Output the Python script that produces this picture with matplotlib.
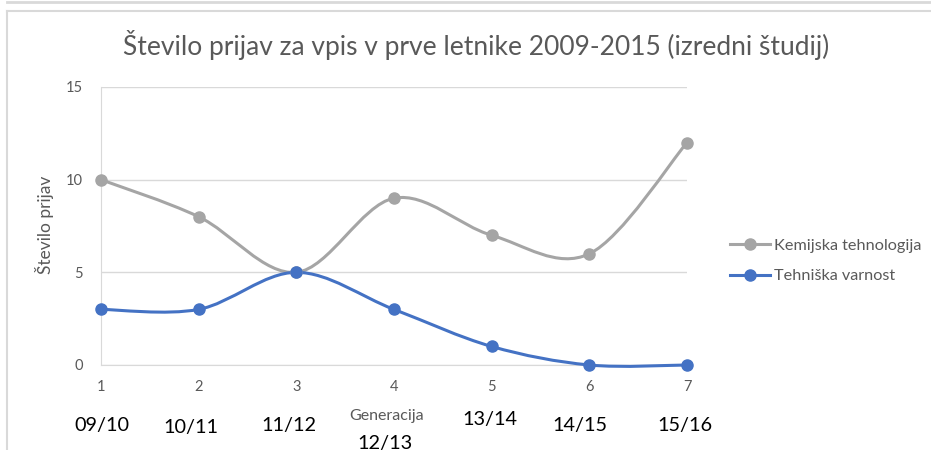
import matplotlib
matplotlib.use("Agg")
import matplotlib.pyplot as plt
from matplotlib.path import Path
from matplotlib.patches import PathPatch
from matplotlib.lines import Line2D

plt.rcParams["font.family"] = ["Lato", "DejaVu Sans"]

# data
x = [1, 2, 3, 4, 5, 6, 7]
generacije = ["09/10", "10/11", "11/12", "12/13", "13/14", "14/15", "15/16"]
kemijska = [10, 8, 5, 9, 7, 6, 12]
tehniska = [3, 3, 5, 3, 1, 0, 0]

GRAY = "#A5A5A5"
BLUE = "#4472C4"
TXT = "#595959"

W, H = 931, 450
fig = plt.figure(figsize=(W / 100, H / 100), dpi=100)
ax = fig.add_axes([101 / W, 1 - 365 / H, (687 - 101) / W, (365 - 87) / H])


def smooth_path(xs, ys):
    # Excel-like smoothed line: Catmull-Rom segments as cubic beziers
    pts = list(zip(xs, ys))
    verts = [pts[0]]
    codes = [Path.MOVETO]
    n = len(pts)
    for i in range(n - 1):
        p0 = pts[max(i - 1, 0)]
        p1 = pts[i]
        p2 = pts[i + 1]
        p3 = pts[min(i + 2, n - 1)]
        c1 = (p1[0] + (p2[0] - p0[0]) / 6, p1[1] + (p2[1] - p0[1]) / 6)
        c2 = (p2[0] - (p3[0] - p1[0]) / 6, p2[1] - (p3[1] - p1[1]) / 6)
        verts += [c1, c2, p2]
        codes += [Path.CURVE4] * 3
    return Path(verts, codes)


for ys, col in ((kemijska, GRAY), (tehniska, BLUE)):
    ax.add_patch(PathPatch(smooth_path(x, ys), fill=False, edgecolor=col,
                           lw=2.2, clip_on=False, zorder=3,
                           capstyle="round", joinstyle="round"))
    ax.plot(x, ys, "o", color=col, ms=8, clip_on=False, zorder=4)

ax.set_xlim(1, 7)
ax.set_ylim(0, 15)
ax.set_yticks([0, 5, 10, 15])
ax.set_xticks(x)
ax.grid(axis="y", color="#D9D9D9", lw=1)
ax.set_axisbelow(True)
for s in ("top", "right"):
    ax.spines[s].set_visible(False)
ax.spines["left"].set_color("#D9D9D9")
ax.spines["bottom"].set_color("#D9D9D9")
ax.tick_params(length=0, colors=TXT, labelsize=10.5, pad=11)
ax.tick_params(axis="y", pad=13)

fig.text(476 / W, 1 - 45 / H,
         "Število prijav za vpis v prve letnike 2009-2015 (izredni študij)",
         ha="center", va="center", fontsize=19, color=TXT)
fig.text(45 / W, 1 - 225 / H, "Število prijav", rotation=90,
         ha="center", va="center", fontsize=12.5, color=TXT)
fig.text(387 / W, 1 - 416 / H, "Generacija", ha="center", va="center",
         fontsize=11.5, color=TXT)

# generation labels sit in loose text boxes below the axis
gen_px = [(102, 425), (191, 428), (289, 425), (385, 443),
          (490, 420), (580, 425), (685, 425)]
for lab, (px, py) in zip(generacije, gen_px):
    fig.text(px / W, 1 - py / H, lab, ha="center", va="center",
             fontsize=14.3, color="black")

handles = [Line2D([], [], color=GRAY, lw=2.2, marker="o", ms=8),
           Line2D([], [], color=BLUE, lw=2.2, marker="o", ms=8)]
leg = fig.legend(handles, ["Kemijska tehnologija", "Tehniška varnost"],
                 loc="center left", bbox_to_anchor=(715 / W, 1 - 261 / H),
                 frameon=False, fontsize=11.7, labelspacing=1.0,
                 handlelength=2.5, handletextpad=0.2, labelcolor=TXT)

# chart frame fragments
fig.add_artist(Line2D([7 / W, 1], [1 - 11 / H] * 2, color="#D9D9D9", lw=1.5))
fig.add_artist(Line2D([7 / W] * 2, [0, 1 - 11 / H], color="#D9D9D9", lw=1.5))
fig.add_artist(Line2D([7 / W, 1], [1 - 2 / H] * 2, color="#D9D9D9", lw=2))

fig.savefig("out.png", dpi=100)
